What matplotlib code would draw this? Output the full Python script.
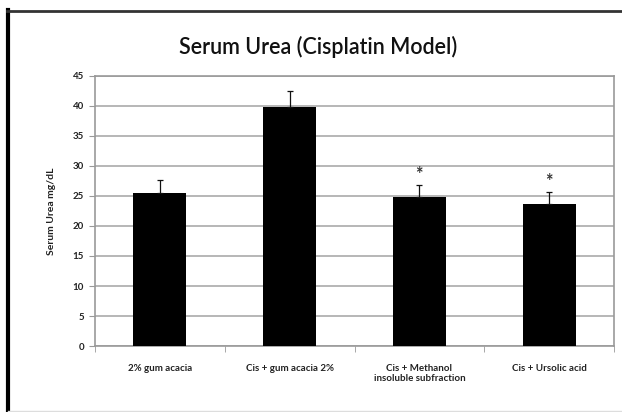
import matplotlib.pyplot as plt
import matplotlib.lines as mlines
import numpy as np

groups = ["2% gum acacia", "Cis + gum acacia 2%",
          "Cis + Methanol\ninsoluble subfraction", "Cis + Ursolic acid"]
urea = [25.5, 39.8, 24.8, 23.7]
urea_err = [2.2, 2.7, 2.0, 2.0]
significant = [False, False, True, True]

plt.rcParams['font.family'] = ['Lato', 'DejaVu Sans']

fig = plt.figure(figsize=(6.22, 4.12), dpi=100)
ax = fig.add_axes([95 / 622, 1 - 346 / 412, 519 / 622, 270 / 412])

# outer chart frame: thick left edge, darker top, faint bottom
fig.lines.append(mlines.Line2D([8 / 622, 8 / 622], [0, 1 - 10 / 412],
                               transform=fig.transFigure, color='black', linewidth=3))
fig.lines.append(mlines.Line2D([7 / 622, 1], [1 - 11 / 412, 1 - 11 / 412],
                               transform=fig.transFigure, color='#333333', linewidth=2))
fig.lines.append(mlines.Line2D([8 / 622, 1], [1 / 412, 1 / 412],
                               transform=fig.transFigure, color='#dddddd', linewidth=1))

x = np.arange(len(groups))
ax.bar(x, urea, width=0.41, color='black', zorder=3)
ax.errorbar(x, urea, yerr=[np.zeros(len(urea)), urea_err], fmt='none',
            ecolor='#111111', elinewidth=0.9, capsize=2.5, capthick=0.9, zorder=4)

for i in range(len(groups)):
    if significant[i]:
        ax.text(x[i], urea[i] + urea_err[i] + 0.3, "*", ha='center', va='bottom',
                fontsize=13, fontweight='bold', color='#333333')

ax.set_xlim(-0.5, len(groups) - 0.5)
ax.set_ylim(0, 45)
ax.set_yticks(np.arange(0, 46, 5))
ax.yaxis.grid(True, color='#aaaaaa', linewidth=1.2, zorder=0)
ax.set_axisbelow(True)

ax.set_xticks(x, groups)
ax.set_xticks(np.arange(-0.5, len(groups), 1), minor=True)
ax.tick_params(axis='x', which='major', length=0, labelsize=7, pad=13, labelcolor='#222222')
ax.tick_params(axis='x', which='minor', length=4, color='#999999')
ax.tick_params(axis='y', length=4, color='#999999', labelsize=7, pad=4, labelcolor='#222222')
for lbl in ax.get_xticklabels() + ax.get_yticklabels():
    lbl.set_fontweight('bold')

for side in ['top', 'right', 'bottom', 'left']:
    ax.spines[side].set_color('#999999')
    ax.spines[side].set_linewidth(1.2)

ax.set_ylabel('Serum Urea mg/dL', fontsize=7.5, labelpad=12, fontweight='bold', color='#222222')
fig.text(318 / 622, 1 - 47 / 412, 'Serum Urea (Cisplatin Model)', ha='center',
         va='center', fontsize=15.5, fontweight='semibold', color='#111111')

fig.savefig('out.png', dpi=100)
